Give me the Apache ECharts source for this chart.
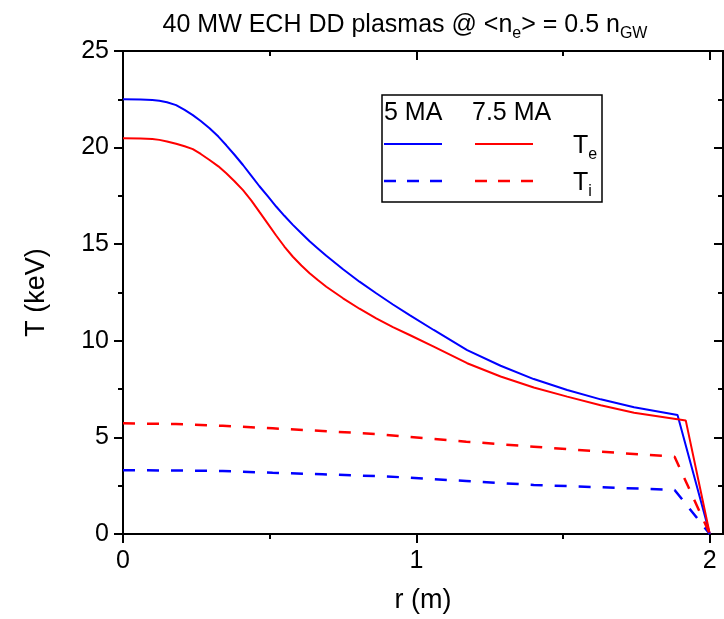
<!DOCTYPE html>
<html>
<head>
<meta charset="utf-8">
<script src="https://cdn.jsdelivr.net/npm/echarts@6/dist/echarts.min.js"></script>
<style>
    html, body {margin: 0; padding: 0; background: #fff;}
    #chartdiv {width: 724px; height: 619px;}
</style>
</head>
<body>
<div id="chartdiv"></div>
<script>
// r (m) sample points
var rTe = [0, 0.06, 0.1, 0.124, 0.15, 0.181, 0.21, 0.238, 0.265, 0.295, 0.325, 0.352, 0.38, 0.409, 0.437, 0.465, 0.494, 0.522, 0.55, 0.579, 0.608, 0.636, 0.665, 0.693, 0.75, 0.806, 0.863, 0.92, 0.977, 1.059, 1.173, 1.287, 1.4, 1.514, 1.628, 1.742];
var te5MA = [22.5, 22.49, 22.46, 22.43, 22.35, 22.2, 21.95, 21.68, 21.38, 21.0, 20.57, 20.12, 19.63, 19.1, 18.55, 18.0, 17.47, 16.95, 16.47, 16.0, 15.57, 15.15, 14.77, 14.4, 13.7, 13.06, 12.46, 11.88, 11.33, 10.56, 9.52, 8.71, 8.02, 7.45, 6.97, 6.56];
var te75MA = [20.48, 20.47, 20.44, 20.4, 20.32, 20.2, 20.07, 19.92, 19.67, 19.36, 19.03, 18.67, 18.26, 17.8, 17.27, 16.67, 16.05, 15.45, 14.88, 14.35, 13.9, 13.5, 13.13, 12.8, 12.2, 11.66, 11.16, 10.71, 10.3, 9.7, 8.84, 8.15, 7.58, 7.11, 6.66, 6.28];
// pedestal + edge points
var te5Edge = [[1.89, 6.16], [2.0, 0]];
var te75Edge = [[1.918, 5.88], [2.0, 0]];

var rTi = [0, 0.18, 0.34, 0.51, 0.68, 0.86, 0.96, 1.17, 1.4, 1.63, 1.88, 2.0];
var ti5MA = [3.3, 3.29, 3.26, 3.17, 3.09, 3.0, 2.93, 2.74, 2.54, 2.42, 2.28, 0];
var ti75MA = [5.73, 5.69, 5.6, 5.47, 5.33, 5.18, 5.04, 4.78, 4.52, 4.26, 4.0, 0];

var xMajor = [0, 1, 2];
var xMinor = [0.5, 1.5];
var yMajor = [0, 5, 10, 15, 20, 25];
var yMinor = [2.5, 7.5, 12.5, 17.5, 22.5];

var FONT = 'Liberation Sans, Arial, sans-serif';

function pairs(xs, ys) {
    var out = [];
    for (var i = 0; i < xs.length; i++) {
        out.push([xs[i], ys[i]]);
    }
    return out;
}

function xAx(pos, vals, len, inside, label) {
    return {
        type: 'value', min: 0, max: 2.045, position: pos,
        axisLine: {show: true, onZero: false, lineStyle: {color: '#000', width: 2}},
        axisTick: {show: true, inside: inside, length: len, customValues: vals, lineStyle: {color: '#000', width: 2}},
        axisLabel: label ? {show: true, customValues: xMajor, color: '#000', fontSize: 25, fontFamily: FONT, margin: 15} : {show: false},
        splitLine: {show: false}
    };
}

function yAx(pos, vals, len, inside, label) {
    return {
        type: 'value', min: 0, max: 25, position: pos,
        axisLine: {show: true, onZero: false, lineStyle: {color: '#000', width: 2}},
        axisTick: {show: true, inside: inside, length: len, customValues: vals, lineStyle: {color: '#000', width: 2}},
        axisLabel: label ? {show: true, customValues: yMajor, color: '#000', fontSize: 25, fontFamily: FONT, margin: 14} : {show: false},
        splitLine: {show: false}
    };
}

var xBottom = xAx('bottom', xMajor, 9, false, true);
xBottom.name = 'r (m)';
xBottom.nameLocation = 'middle';
xBottom.nameGap = 53;
xBottom.nameTextStyle = {fontSize: 27, color: '#000', fontFamily: FONT};

var yLeft = yAx('left', yMajor, 9, false, true);
yLeft.name = 'T (keV)';
yLeft.nameLocation = 'middle';
yLeft.nameGap = 73;
yLeft.nameTextStyle = {fontSize: 27, color: '#000', fontFamily: FONT};

var sub = {fontSize: 16, fontFamily: FONT, color: '#000', verticalAlign: 'bottom', lineHeight: 16};
var big = {fontSize: 25, fontFamily: FONT, color: '#000', lineHeight: 34};

var dom = document.getElementById('chartdiv');
var myChart = echarts.init(dom);

var option = {
    animation: false,
    grid: {left: 123, right: 1, top: 51, bottom: 85, containLabel: false},
    xAxis: [
        xBottom,
        xAx('bottom', xMinor, 5, false, false),
        xAx('top', xMajor, 9, true, false),
        xAx('top', xMinor, 5, true, false)
    ],
    yAxis: [
        yLeft,
        yAx('left', yMinor, 5, false, false),
        yAx('right', yMajor, 9, true, false),
        yAx('right', yMinor, 5, true, false)
    ],
    graphic: [
        {
            type: 'text', x: 405, y: 25,
            style: {
                text: '{a|40 MW ECH DD plasmas @ <n}{s|e}{a|> = 0.5 n}{s|GW}',
                align: 'center', verticalAlign: 'middle',
                rich: {a: big, s: sub}
            }
        },
        {
            type: 'rect', shape: {x: 382, y: 95, width: 220, height: 107},
            style: {fill: '#fff', stroke: '#000', lineWidth: 1.5}, z: 10
        },
        {type: 'text', x: 384, y: 113, z: 11, style: {text: '5 MA', fontSize: 25, fontFamily: FONT, fill: '#000', verticalAlign: 'middle'}},
        {type: 'text', x: 472, y: 113, z: 11, style: {text: '7.5 MA', fontSize: 25, fontFamily: FONT, fill: '#000', verticalAlign: 'middle'}},
        {type: 'line', z: 11, shape: {x1: 384, y1: 144, x2: 442, y2: 144}, style: {stroke: '#0000ff', lineWidth: 2}},
        {type: 'line', z: 11, shape: {x1: 475, y1: 144, x2: 533, y2: 144}, style: {stroke: '#ff0000', lineWidth: 2}},
        {type: 'line', z: 11, shape: {x1: 384, y1: 181, x2: 442, y2: 181}, style: {stroke: '#0000ff', lineWidth: 2.5, lineDash: [12, 11]}},
        {type: 'line', z: 11, shape: {x1: 475, y1: 181, x2: 533, y2: 181}, style: {stroke: '#ff0000', lineWidth: 2.5, lineDash: [12, 11]}},
        {
            type: 'text', x: 573, y: 146, z: 11,
            style: {text: '{a|T}{s|e}', verticalAlign: 'middle', rich: {a: big, s: sub}}
        },
        {
            type: 'text', x: 573, y: 183, z: 11,
            style: {text: '{a|T}{s|i}', verticalAlign: 'middle', rich: {a: big, s: sub}}
        }
    ],
    series: [
        {
            name: 'Te 5 MA', type: 'line', showSymbol: false,
            data: pairs(rTe, te5MA).concat(te5Edge),
            lineStyle: {color: '#0000ff', width: 2}
        },
        {
            name: 'Te 7.5 MA', type: 'line', showSymbol: false,
            data: pairs(rTe, te75MA).concat(te75Edge),
            lineStyle: {color: '#ff0000', width: 2}
        },
        {
            name: 'Ti 5 MA', type: 'line', showSymbol: false,
            data: pairs(rTi, ti5MA),
            lineStyle: {color: '#0000ff', width: 2.5, type: [12, 12]}
        },
        {
            name: 'Ti 7.5 MA', type: 'line', showSymbol: false,
            data: pairs(rTi, ti75MA),
            lineStyle: {color: '#ff0000', width: 2.5, type: [12, 12]}
        }
    ]
};

myChart.setOption(option);
</script>
</body>
</html>
